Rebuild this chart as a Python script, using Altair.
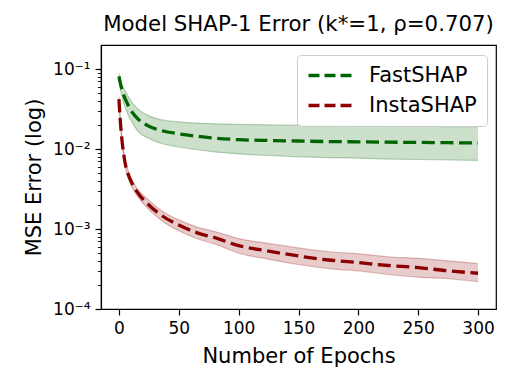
import altair as alt
import pandas as pd

epochs = [0, 1, 2, 4, 6, 8, 11, 16, 25, 35, 50, 66, 80, 100, 125, 150, 175, 200, 225, 250, 275, 300]

fast_mean = [0.081, 0.068, 0.059, 0.047, 0.040, 0.0345, 0.029, 0.0237, 0.0193, 0.0171, 0.0155, 0.0144,
             0.0137, 0.0131, 0.0128, 0.0126, 0.0124, 0.0123, 0.0122, 0.0121, 0.0120, 0.0119]
fast_hi = [0.088, 0.078, 0.068, 0.057, 0.051, 0.045, 0.038, 0.0316, 0.026, 0.0233, 0.0219, 0.0211,
           0.0207, 0.0204, 0.0201, 0.0199, 0.0197, 0.0195, 0.0194, 0.0192, 0.0191, 0.019]
fast_lo = [0.074, 0.058, 0.049, 0.037, 0.031, 0.026, 0.0215, 0.0166, 0.0136, 0.0118, 0.0106, 0.0098,
           0.0092, 0.0087, 0.0083, 0.0080, 0.0078, 0.0077, 0.0075, 0.0074, 0.0073, 0.0072]

insta_mean = [0.042, 0.024, 0.0155, 0.0085, 0.0058, 0.0047, 0.0037, 0.0028, 0.002, 0.0015, 0.00112, 0.00089,
              0.00078, 0.00062, 0.00053, 0.00046, 0.00041, 0.00038, 0.00035, 0.00033, 0.00030, 0.00028]
insta_hi = [0.045, 0.026, 0.0168, 0.0093, 0.0064, 0.0052, 0.0041, 0.0031, 0.0023, 0.00172, 0.0013, 0.00105,
            0.00093, 0.00076, 0.00066, 0.00058, 0.00052, 0.00049, 0.00045, 0.00043, 0.0004, 0.00037]
insta_lo = [0.039, 0.022, 0.0143, 0.0078, 0.0053, 0.0042, 0.0033, 0.0025, 0.00175, 0.0013, 0.00095, 0.00075,
            0.00065, 0.0005, 0.00042, 0.00036, 0.00032, 0.0003, 0.00027, 0.00025, 0.00024, 0.00022]

methods = ["FastSHAP", "InstaSHAP"]
colors = ["#006400", "#8b0000"]

x_ticks = [0, 50, 100, 150, 200, 250, 300]
y_major = [1e-4, 1e-3, 1e-2, 1e-1]
y_minor = [m * 10.0 ** k for k in (-4, -3, -2) for m in range(2, 10)]

rows = []
for name, mean, lo, hi in [("FastSHAP", fast_mean, fast_lo, fast_hi),
                           ("InstaSHAP", insta_mean, insta_lo, insta_hi)]:
    for e, m, l, h in zip(epochs, mean, lo, hi):
        rows.append({"epoch": e, "method": name, "mean": m, "lo": l, "hi": h})
df = pd.DataFrame(rows)

FONT = "DejaVu Sans"

xenc = alt.X("epoch:Q",
             scale=alt.Scale(domain=[-15, 315], nice=False, zero=False),
             axis=alt.Axis(values=x_ticks, title="Number of Epochs", grid=False,
                           tickSize=6, labelPadding=5, labelFontSize=17, titleFontSize=21,
                           titleFontWeight="normal", labelFont=FONT, titleFont=FONT,
                           titleY=53, titleBaseline="alphabetic",
                           domainColor="black", tickColor="black", labelColor="black",
                           titleColor="black", domainWidth=1.2, tickWidth=1.2))

yscale = alt.Scale(type="log", domain=[1e-4, 0.2], nice=False)

is_major = "abs(log(datum.value)/LN10 - round(log(datum.value)/LN10)) < 0.001"
label_expr = (is_major + " ? "
              "('10' + (round(log(datum.value)/LN10) == -1 ? '⁻¹' : "
              "round(log(datum.value)/LN10) == -2 ? '⁻²' : "
              "round(log(datum.value)/LN10) == -3 ? '⁻³' : '⁻⁴')) : ''")

yaxis = alt.Axis(values=y_major + y_minor, labelExpr=label_expr, title="MSE Error (log)", grid=False,
                 tickSize={"condition": {"test": is_major, "value": 6}, "value": 3.5},
                 tickWidth={"condition": {"test": is_major, "value": 1.2}, "value": 0.9},
                 labelPadding=5, labelFontSize=17, titleFontSize=21,
                 titleFontWeight="normal", labelFont=FONT, titleFont=FONT,
                 titleX=-67, titleY=132, titleAngle=-90, titleAlign="center",
                 titleBaseline="middle", orient="left",
                 domainColor="black", tickColor="black", labelColor="black",
                 titleColor="black", domainWidth=1.2)

legend = alt.Legend(title=None, orient="none", legendX=196, legendY=10,
                    symbolType="M-3,0H3", symbolSize=215, symbolStrokeWidth=3.3,
                    symbolOffset=13, symbolDash=[11, 5], symbolOpacity=1,
                    labelFontSize=21, labelFont=FONT,
                    labelColor="black", labelOffset=28, padding=10,
                    rowPadding=8, fillColor="rgba(255,255,255,0.8)",
                    strokeColor="#cccccc", cornerRadius=4)

color = alt.Color("method:N", scale=alt.Scale(domain=methods, range=colors), legend=legend)

base = alt.Chart(df)

line = base.mark_line(strokeDash=[13, 5.6], strokeWidth=3.3, interpolate="monotone").encode(
    x=xenc,
    y=alt.Y("mean:Q", scale=yscale, axis=yaxis),
    color=color,
    detail="method:N",
)

band = base.mark_area(opacity=0.2, interpolate="monotone").encode(
    x=xenc,
    y=alt.Y("lo:Q", scale=yscale, axis=yaxis),
    y2="hi:Q",
    color=color,
    detail="method:N",
)

edges = base.transform_fold(["lo", "hi"], as_=["bound", "val"]).mark_line(
    strokeWidth=1.2, opacity=0.25, interpolate="monotone").encode(
    x=xenc,
    y=alt.Y("val:Q", scale=yscale, axis=yaxis),
    color=color,
    detail="bound:N",
)

chart = alt.layer(line, band, edges).properties(
    width=395,
    height=264,
    background="white",
    autosize=alt.AutoSizeParams(type="none"),
    padding={"left": 93, "top": 37, "right": 10, "bottom": 60},
    title=alt.TitleParams("Model SHAP-1 Error (k*=1, ρ=0.707)", fontSize=21.3, font=FONT,
                          fontWeight="normal", anchor="middle", offset=10, color="black"),
).configure_view(stroke="black", strokeWidth=1.2)

chart.save("out.html", embed_options={"renderer": "svg", "actions": False})
